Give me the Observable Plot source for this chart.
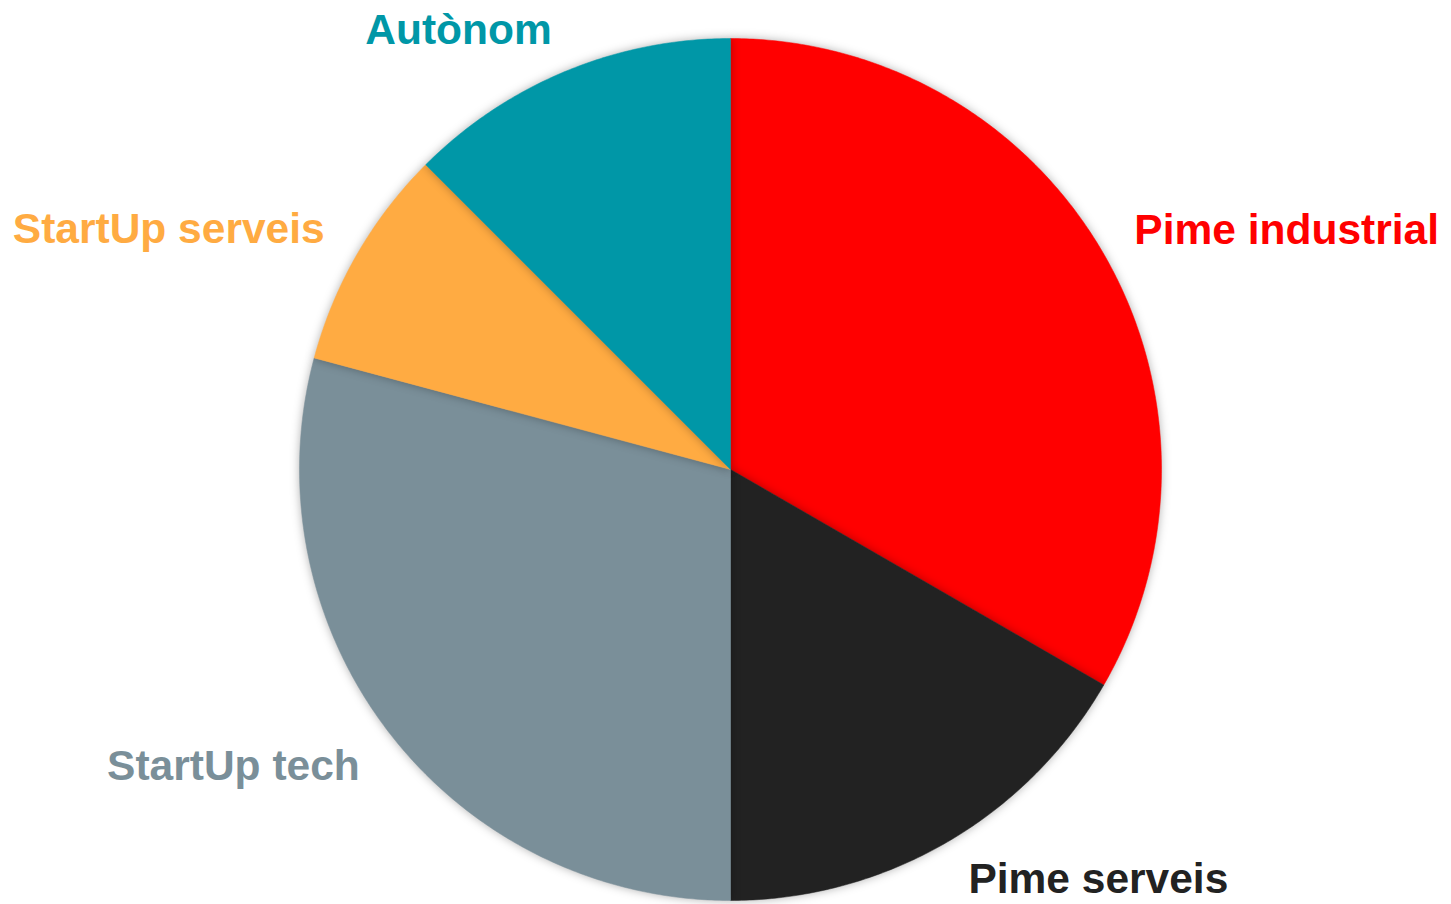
<!DOCTYPE html>
<html>
<head>
<meta charset="utf-8">
<script src="https://cdn.jsdelivr.net/npm/d3@7"></script>
<script src="https://cdn.jsdelivr.net/npm/@observablehq/plot@0.6"></script>
<style>
  html, body { margin: 0; padding: 0; background: #ffffff; }
  #chart svg { display: block; }
</style>
</head>
<body>
<div id="chart"></div>
<script>
// Data (clockwise from 12 o'clock)
const categories = ["Pime industrial", "Pime serveis", "StartUp tech", "StartUp serveis", "Autònom"];
const values = [8, 4, 7, 2, 3];
const colors = ["#ff0000", "#222222", "#7a8f99", "#ffab42", "#0097a7"];

const W = 1451, H = 904;
const cx = 730, cy = 469, R = 431;

const arcs = d3.pie().sort(null).value(d => d.value)(
  categories.map((name, i) => ({name, value: values[i]}))
);

// polygon vertices (in unit coordinates) derived from the pie angles
const slices = arcs.map(a => {
  const pts = [{name: a.data.name, x: 0, y: 0}];
  const n = Math.max(2, Math.ceil((a.endAngle - a.startAngle) / (Math.PI / 360)));
  for (let k = 0; k <= n; k++) {
    const t = a.startAngle + (a.endAngle - a.startAngle) * k / n;
    pts.push({name: a.data.name, x: Math.sin(t), y: Math.cos(t)});
  }
  pts.push({name: a.data.name, x: 0, y: 0});
  return pts;
});

const labels = arcs.map(a => {
  const m = (a.startAngle + a.endAngle) / 2;
  return {name: a.data.name, x: 1.09 * Math.sin(m), y: 1.09 * Math.cos(m),
          right: Math.sin(m) >= 0, top: Math.cos(m) >= 0};
});

const textOpts = {x: "x", y: "y", text: "name", fill: "name", lineAnchor: "middle", fontSize: 42.5, fontWeight: "bold"};

const plot = Plot.plot({
  width: W,
  height: H,
  marginLeft: cx - R,
  marginRight: W - (cx + R),
  marginTop: cy - R,
  marginBottom: H - (cy + R),
  x: {domain: [-1, 1], axis: null},
  y: {domain: [-1, 1], axis: null},
  color: {domain: categories, range: colors},
  style: {overflow: "visible", fontFamily: "'Liberation Sans', Arial, sans-serif"},
  marks: [
    ...slices.map((pts, i) => Plot.line(pts, {x: "x", y: "y", fill: colors[i], stroke: colors[i], strokeWidth: 0.5, curve: "linear"})),
    Plot.text(labels.filter(d => d.right && d.top), {...textOpts, textAnchor: "start", dx: -3, dy: -4}),
    Plot.text(labels.filter(d => d.right && !d.top), {...textOpts, textAnchor: "start", dx: 3, dy: 3}),
    Plot.text(labels.filter(d => !d.right && d.top), {...textOpts, textAnchor: "end", dx: 1, dy: -5}),
    Plot.text(labels.filter(d => !d.right && !d.top), {...textOpts, textAnchor: "end", dx: 2, dy: 11})
  ]
});

// soft shadow around the pie like the original
d3.select(plot).selectAll('g[aria-label="line"]').style("filter", "drop-shadow(0px 0px 5px rgba(0,0,0,0.3))");

document.getElementById("chart").appendChild(plot);
</script>
</body>
</html>
